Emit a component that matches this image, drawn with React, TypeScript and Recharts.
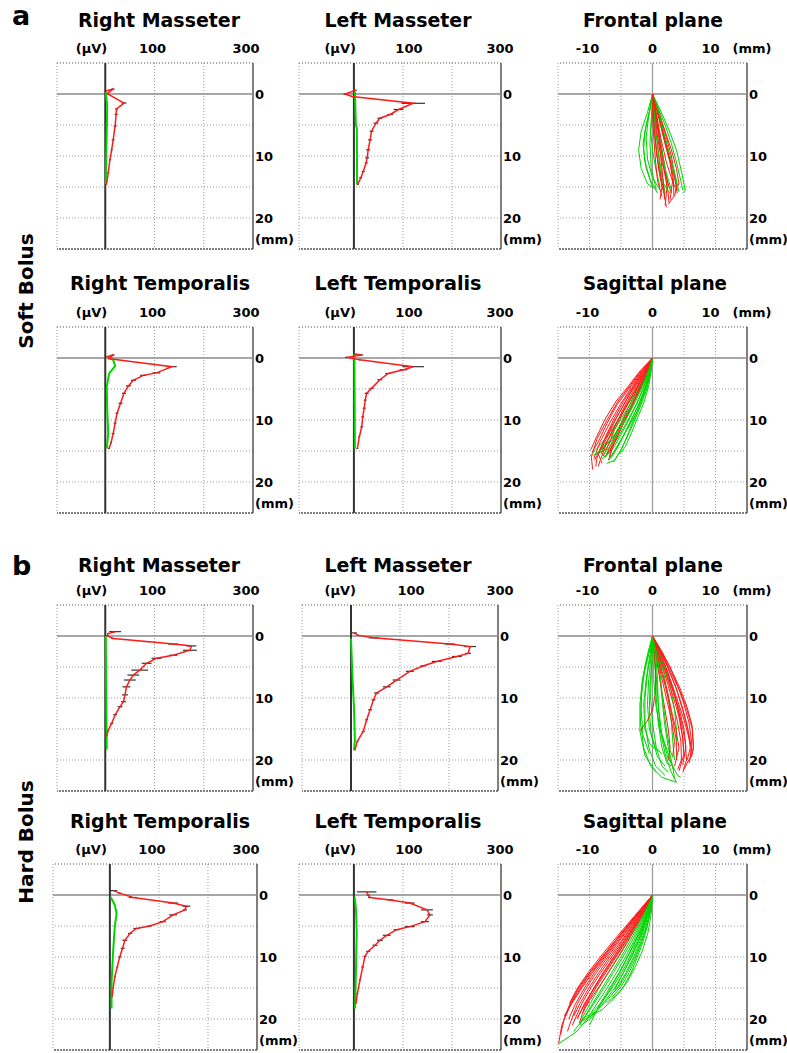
import { ScatterChart, Scatter, XAxis, YAxis, ReferenceLine, ErrorBar } from 'recharts'

const FONT = '"DejaVu Sans", Verdana, sans-serif'
const RED = '#ff1a1a'
const GREEN = '#00d400'

// EMG profiles: [depth mm, amplitude µV, sd]
const softRightMasseterRed = [
  [-0.5, 1, 1], [-0.8, 16, 3], [-0.05, 4, 1], [1.45, 38, 5], [2.4, 23, 3], [3.3, 22, 3],
  [5.2, 20, 3], [7.4, 16, 3], [9, 13, 2], [10.6, 9.5, 2], [12.7, 6, 2], [14.6, 2.7, 1],
]
const softRightMasseterGreen = [[-0.3, 1], [2, 4], [6, 3], [10, 2], [14.6, 1]]

const softLeftMasseterRed = [
  [-0.6, 4, 2], [0, -18, 3], [0.4, -4, 2], [1.5, 121, 24], [2.5, 91, 10], [3.3, 74, 6],
  [3.9, 53, 5], [4.7, 45, 5], [6, 36, 4], [7.4, 33, 4], [9, 29, 4], [10.3, 27, 4],
  [11.1, 25, 3], [12.5, 19, 3], [13.5, 14, 3], [14.6, 8, 2],
]
const softLeftMasseterGreen = [[-0.4, 2], [5, 4], [5.5, 6], [14.6, 6.5]]

const softRightTemporalisRed = [
  [-0.2, 3, 1], [-0.5, 16, 3], [0.1, 8, 2], [1.4, 135, 10], [2.4, 104, 8], [2.8, 77, 6],
  [3.6, 57, 5], [4.5, 47, 5], [5.7, 38, 4], [7.3, 31, 4], [8.9, 24, 3], [10.5, 20, 3],
  [12.2, 16, 3], [13.7, 11.6, 2], [14.6, 7.5, 2],
]
const softRightTemporalisGreen = [[-0.2, 4], [0.3, 16], [1.3, 20], [2.5, 8], [4.6, 3], [8.4, 4], [12.2, 6], [14.6, 3]]

const softLeftTemporalisRed = [
  [-0.6, 4, 2], [-0.5, 16, 3], [-0.1, -15, 3], [0.1, -1, 1], [0.3, 12, 2], [1.4, 121, 22],
  [1.9, 101, 8], [2.5, 70, 6], [3.5, 53, 5], [4.9, 36, 4], [5.7, 26, 4], [6.8, 23, 3],
  [8.1, 21, 3], [9.5, 18, 3], [11.1, 16, 3], [12.7, 11, 2], [14.6, 7, 2],
]
const softLeftTemporalisGreen = [[-0.6, 1], [14.6, 2]]

const hardRightMasseterRed = [
  [-0.7, 20, 12], [-0.4, 6, 2], [-0.05, 4, 2], [0.4, 16, 4], [0.9, 84, 8], [1.3, 138, 10],
  [1.6, 175, 10], [2.3, 172, 14], [3.1, 138, 8], [3.6, 104, 10], [4.4, 84, 10], [5.5, 70, 17],
  [6.3, 57, 12], [7.1, 50, 12], [8.2, 43, 8], [9.5, 40, 6], [10.6, 37, 5], [11.4, 30, 5],
  [12.7, 20, 4], [14.1, 13, 3], [15.2, 6, 2], [16.2, 3, 1],
]
const hardRightMasseterGreen = [[0, 1], [9, 2], [18.3, 3]]

const hardLeftMasseterRed = [
  [-0.5, 6, 6], [-0.1, 15, 3], [0.3, 46, 10], [1.3, 202, 10], [1.7, 243, 12], [2.8, 239, 6],
  [3.3, 216, 10], [4.1, 175, 10], [4.8, 148, 6], [5.7, 120, 8], [7.1, 93, 8], [8.2, 73, 8],
  [9.2, 52, 5], [10.3, 46, 4], [11.9, 39, 4], [13.5, 32, 3], [15.4, 25, 3], [17, 13, 2], [18.4, 8, 1],
]
const hardLeftMasseterGreen = [[0.4, 0], [6, 2.7], [11.4, 6], [16.8, 8], [18.4, 6]]

const hardRightTemporalisRed = [
  [-0.7, 7, 8], [-0.3, 20, 3], [0.4, 47, 8], [1.3, 129, 10], [1.8, 156, 8], [2.4, 153, 4],
  [3.2, 129, 8], [4.3, 108, 6], [5, 81, 4], [5.4, 54, 6], [6.2, 41, 4], [7.3, 30.5, 5],
  [8.6, 26, 4], [10, 20, 3], [11.6, 15, 2], [13.2, 10, 2], [14.8, 7, 1], [16.4, 4.7, 1],
]
const hardRightTemporalisGreen = [[0.3, 1.4], [1.6, 10], [3, 13.6], [5.1, 10], [8.9, 6.8], [14.2, 3.4], [18.3, 3.4]]

const hardLeftTemporalisRed = [
  [-0.5, 26, 20], [0, 29, 3], [0.4, 33, 4], [0.8, 74, 6], [1.3, 114, 10], [2.4, 149, 12],
  [3.2, 155, 6], [4.3, 145, 8], [5.1, 114, 10], [5.6, 87, 6], [6.5, 67, 8], [7.3, 53, 6],
  [8.1, 43, 5], [9.1, 29, 4], [9.9, 22.6, 3], [11.6, 18, 3], [13.7, 12.4, 2], [15.9, 7, 2], [17.5, 4.3, 1],
]
const hardLeftTemporalisGreen = [[0.3, 1.6], [2.4, 4.3], [6.2, 5.7], [11.6, 4.3], [18.3, 2.3]]

// jaw trajectories: [x mm, depth mm]
const softFrontalGreen = [
  [[0, 0], [-0.8, 3], [-1.8, 6], [-2.2, 9], [-1.8, 12], [-0.8, 14.5], [0.2, 15.2]],
  [[0, 0], [-0.5, 3], [-1.2, 6], [-1.4, 9], [-1, 12], [0, 15]],
  [[0, 0], [0, 3], [-0.3, 6], [0, 9], [0.5, 12], [1.2, 15]],
  [[0, 0], [0.5, 3], [1, 6], [1.5, 9], [2, 12], [2.5, 15]],
  [[0, 0], [1, 2.5], [2, 5], [3, 8], [3.8, 11], [4.5, 14], [4.8, 15.5]],
  [[0, 0], [0.8, 3], [1.5, 6], [2.5, 10], [3.5, 13.5], [4, 15]],
  [[0, 0], [0.3, 3], [0.5, 6], [1, 10], [1.5, 13], [2, 16]],
  [[0, 0], [1.2, 2.5], [2.5, 5.5], [3.8, 9], [4.6, 12.5], [5.2, 15.5], [4.8, 16]],
  [[0, 0], [-0.3, 2], [-1, 5], [-1.5, 8], [-1.2, 11], [-0.3, 14], [0.8, 16]],
  [[0, 0], [0.6, 4], [1.2, 8], [2, 12], [3, 15.5]],
  [[0, 0], [0.2, 3], [0.4, 7], [0.9, 11], [1.8, 14.5], [2.8, 16]],
  [[0, 0], [-0.6, 3.5], [-1, 7], [-0.8, 10.5], [0, 13.5], [1.2, 15.5]],
  [[0, 0], [1, 3], [1.9, 6.5], [2.8, 10], [3.6, 13], [4.2, 15.8]],
  [[0, 0], [-0.2, 4], [-0.4, 8], [-0.2, 12], [0.6, 15.5]],
]
const softFrontalRed = [
  [[0, 0], [0.5, 3], [1, 6], [1.5, 9], [2, 12], [2.3, 15], [2, 18]],
  [[0, 0], [0.8, 3], [1.6, 6], [2.4, 9], [3.2, 12], [3.8, 15], [3.5, 16.5]],
  [[0, 0], [0.3, 3], [0.6, 6], [0.9, 9], [1.2, 12], [1.5, 15], [1.2, 17]],
  [[0, 0], [1, 3], [2, 6], [3, 9], [3.8, 12], [4.2, 14.5], [3.6, 15.5]],
  [[0, 0], [0.2, 4], [0.5, 8], [1, 12], [1.8, 15.5], [2.2, 18.3]],
  [[0, 0], [0.6, 2], [1.3, 5], [2, 8], [2.8, 11], [3.2, 14], [2.8, 17]],
  [[0, 0], [0.4, 3], [0.8, 7], [1.5, 11], [2.5, 14.5], [3, 16]],
  [[0, 0], [0, 3], [0.2, 7], [0.5, 11], [0.8, 14], [1.5, 16.5]],
  [[0, 0], [1.2, 3.5], [2.2, 7], [3, 10], [3.5, 13], [3.9, 16]],
  [[0, 0], [0.7, 4], [1.2, 8], [1.8, 12], [2.5, 16], [2.6, 17.5]],
  [[0, 0], [0.9, 3], [1.8, 6.5], [2.6, 10], [3.3, 13.5], [3.4, 16.5], [2.5, 17.8]],
  [[0, 0], [0.4, 2.5], [0.9, 6], [1.3, 10], [1.7, 14], [1.9, 17]],
  [[0, 0], [0.6, 3], [1.3, 7], [2.2, 11], [3.3, 14.5], [4, 15.5]],
  [[0, 0], [0.1, 3], [0.3, 6], [0.7, 10], [1.2, 13.5], [1.8, 16]],
]
const softSagittalRed = [
  [[0, 0], [-1.8, 2], [-3.6, 4.5], [-5.5, 7], [-7.2, 10], [-8.8, 13], [-9.7, 16], [-9.5, 18]],
  [[0, 0], [-1.5, 2], [-3, 4.5], [-4.6, 7], [-6.2, 10], [-7.6, 13], [-8.6, 15.5], [-8, 17]],
  [[0, 0], [-1.2, 2], [-2.6, 4.5], [-4, 7], [-5.5, 10], [-7, 13], [-8.2, 15.5]],
  [[0, 0], [-1, 2], [-2.2, 4.5], [-3.6, 7.5], [-5, 10.5], [-6.4, 13.5], [-7.5, 16]],
  [[0, 0], [-1.6, 2.5], [-3.2, 5], [-4.8, 8], [-6.5, 11], [-8, 14], [-9.2, 16.5]],
  [[0, 0], [-0.8, 2], [-1.9, 4.5], [-3.2, 7.5], [-4.6, 10.5], [-6, 13.5], [-7, 16.5]],
  [[0, 0], [-1.4, 2.5], [-2.9, 5.5], [-4.5, 8.5], [-6, 11.5], [-7.2, 14.5], [-7.8, 15.8]],
  [[0, 0], [-2, 2.5], [-3.8, 5], [-5.6, 7.5], [-7.2, 10.5], [-8.6, 13.5], [-9.6, 15.2]],
  [[0, 0], [-1.1, 2.5], [-2.4, 5.5], [-3.8, 8.5], [-5.3, 11.5], [-6.6, 14.5], [-6.8, 16]],
  [[0, 0], [-1.3, 2], [-2.8, 4.5], [-4.3, 7], [-5.9, 10], [-7.3, 13], [-8.8, 16], [-9, 17.5]],
  [[0, 0], [-1.7, 2.2], [-3.4, 4.8], [-5.1, 7.5], [-6.8, 10.5], [-8.3, 13.5], [-9.3, 16.2]],
  [[0, 0], [-1.2, 2.5], [-2.6, 5], [-4.1, 7.5], [-5.7, 10.5], [-7.2, 13.5], [-8.3, 16.5], [-8.6, 17.5]],
  [[0, 0], [-0.9, 2.5], [-2, 5], [-3.3, 8], [-4.8, 11], [-6.2, 14], [-7.3, 15.5]],
  [[0, 0], [-1.9, 2], [-3.8, 4.5], [-5.8, 7], [-7.6, 10], [-9, 13], [-9.8, 14.8]],
]
const softSagittalGreen = [
  [[0, 0], [-0.3, 2], [-0.9, 4.5], [-1.8, 7], [-2.8, 9.5], [-3.8, 12], [-4.8, 14.5], [-6, 16.5], [-7.3, 17]],
  [[0, 0], [-0.5, 2], [-1.3, 4.5], [-2.3, 7], [-3.5, 9.5], [-4.8, 12], [-6.2, 14.5], [-7.5, 16]],
  [[0, 0], [-0.7, 2], [-1.7, 4.5], [-3, 7], [-4.4, 9.5], [-5.8, 12], [-7.3, 14], [-8.8, 15.5]],
  [[0, 0], [-1, 2], [-2.2, 4.5], [-3.6, 7], [-5.2, 9.5], [-6.7, 12], [-8.3, 14], [-10, 15.9]],
  [[0, 0], [-0.2, 2], [-0.6, 4.5], [-1.3, 7], [-2.3, 9.5], [-3.3, 12], [-4.3, 14.3], [-5.2, 15.5]],
  [[0, 0], [-0.6, 2.5], [-1.5, 5], [-2.6, 7.5], [-3.9, 10], [-5.3, 12.5], [-6.8, 15], [-8, 16.3]],
  [[0, 0], [-0.8, 2.5], [-1.9, 5], [-3.2, 7.5], [-4.6, 10], [-6, 12.5], [-7.5, 14.8], [-9, 15.5]],
  [[0, 0], [-0.4, 2], [-1.1, 4.5], [-2, 7], [-3.1, 9.5], [-4.3, 12], [-5.6, 14.5], [-6.5, 16]],
  [[0, 0], [-0.9, 2], [-2, 4.5], [-3.3, 7], [-4.8, 9.5], [-6.3, 12], [-7.6, 14], [-8.3, 15]],
  [[0, 0], [-0.5, 3], [-1.4, 6], [-2.6, 9], [-4, 11.5], [-5.5, 14], [-6.8, 16.2]],
  [[0, 0], [-0.4, 2.5], [-1.2, 5], [-2.2, 7.5], [-3.4, 10], [-4.6, 12.5], [-5.8, 14.8], [-6.9, 16.5]],
  [[0, 0], [-0.8, 2.2], [-1.9, 4.8], [-3.2, 7.5], [-4.6, 10], [-6.1, 12.5], [-7.8, 14.5], [-9.4, 15.7]],
  [[0, 0], [-0.3, 2.5], [-0.9, 5], [-1.8, 7.5], [-2.8, 10], [-3.9, 12.5], [-5, 14.8], [-6.2, 16.8]],
  [[0, 0], [-0.6, 2], [-1.5, 4.5], [-2.7, 7], [-4, 9.5], [-5.4, 12], [-6.8, 14.3], [-8, 15.8]],
]
const hardFrontalGreen = [
  [[0, 0], [-0.6, 3], [-1.3, 6], [-1.8, 10], [-1.9, 14], [-1.4, 18], [-0.3, 21], [1.5, 22.8], [3.8, 23.6]],
  [[0, 0], [-0.3, 3], [-0.8, 6], [-1.2, 10], [-1.2, 14], [-0.6, 18], [0.5, 21], [2, 22.5]],
  [[0, 0], [0, 3], [-0.2, 6], [-0.3, 10], [0, 14], [0.6, 18], [1.5, 21], [2.5, 22]],
  [[0, 0], [0.3, 3], [0.5, 6], [0.6, 10], [0.9, 14], [1.5, 18], [2.3, 20.5], [3, 21]],
  [[0, 0], [0.6, 3], [1.1, 6], [1.5, 10], [1.9, 14], [2.5, 18], [3.2, 21], [3.5, 23]],
  [[0, 0], [0.9, 3], [1.8, 6], [2.5, 10], [3, 14], [3.3, 18], [3.5, 20]],
  [[0, 0], [-0.5, 2], [-1.2, 5], [-1.7, 8], [-1.8, 12], [-1.5, 16], [-0.5, 19]],
  [[0, 0], [0.4, 4], [0.7, 8], [1, 12], [1.5, 16], [2.4, 19.5], [4, 22.5], [4.5, 22.8]],
  [[0, 0], [-0.2, 3], [-0.6, 7], [-0.8, 11], [-0.5, 15], [0.5, 18], [1.5, 19]],
  [[0, 0], [1.2, 3], [2.2, 6], [3, 9], [3.5, 12], [3.8, 15], [3.8, 17]],
  [[0, 0], [-0.4, 3], [-1, 7], [-1.4, 11], [-1.2, 15], [-0.4, 17.5], [0.8, 18.5]],
  [[0, 0], [0.2, 3], [0.2, 7], [0.5, 11], [1.2, 15], [2.5, 19], [3.3, 21.5]],
  [[0, 0], [-0.8, 3], [-1.6, 7], [-2, 11], [-2, 15.3], [-1.2, 19.3], [0.6, 22]],
  [[0, 0], [0.5, 3], [0.8, 7], [0.9, 11], [1.2, 15], [2, 19], [3, 22], [3.8, 23.6]],
  [[0, 0], [-0.1, 4], [-0.4, 8], [-0.5, 12], [-0.2, 16], [0.8, 19.5], [2, 21]],
  [[0, 0], [0.7, 3], [1.3, 7], [1.7, 11], [2.2, 15], [2.8, 18.5], [3.2, 19.5]],
]
const hardFrontalRed = [
  [[0, 0], [1.4, 2.5], [2.8, 5], [4, 8], [5, 11], [5.8, 14], [6.2, 17], [6, 19.5], [5, 21.5]],
  [[0, 0], [1.2, 2.5], [2.4, 5], [3.6, 8], [4.6, 11], [5.4, 14], [6, 17], [6.3, 19]],
  [[0, 0], [1, 2.5], [2, 5], [3, 8], [3.9, 11], [4.6, 14], [5.2, 17], [5.4, 20], [4.8, 22]],
  [[0, 0], [0.8, 2.5], [1.6, 5], [2.5, 8], [3.3, 11], [4, 14], [4.5, 17], [4.6, 20], [4, 21.5]],
  [[0, 0], [1.6, 3], [3, 6], [4.4, 9], [5.5, 12], [6.3, 15], [6.5, 18], [6.2, 19.5]],
  [[0, 0], [0.6, 2.5], [1.2, 5], [2, 8], [2.7, 11], [3.3, 14], [3.8, 17], [3.8, 20]],
  [[0, 0], [1.1, 3], [2.2, 6], [3.3, 9], [4.3, 12], [5, 15], [5.3, 18], [4.8, 20.8]],
  [[0, 0], [0.5, 3], [1, 6], [1.5, 9], [2, 12], [2.5, 15], [2.8, 18], [2.5, 20]],
  [[0, 0], [0.9, 2], [1.9, 4.5], [3, 7.5], [4, 10.5], [5, 13.5], [5.8, 16.5], [6.3, 18.5]],
  [[0, 0], [0.3, 3], [0.5, 6], [0.5, 9], [0, 12], [-1, 14], [-2, 15.3]],
  [[0, 0], [1.3, 3], [2.5, 6], [3.5, 9.5], [4.3, 13], [4.8, 16.5], [5, 19.5]],
  [[0, 0], [0.7, 3], [1.4, 6.5], [2.2, 10], [3, 13.5], [3.5, 17], [3.2, 19.5]],
  [[0, 0], [1.5, 2.5], [3, 5.5], [4.4, 8.5], [5.5, 11.5], [6.3, 14.5], [6.5, 18], [5.8, 20.5]],
  [[0, 0], [1, 3], [2.1, 6], [3.2, 9.5], [4.2, 13], [4.8, 16.5], [5, 19], [4.2, 21.8]],
  [[0, 0], [0.8, 3], [1.6, 6], [2.4, 9], [3, 12], [3.7, 15], [4.2, 18], [3.5, 21]],
  [[0, 0], [1.3, 2.5], [2.6, 5.5], [3.8, 8.5], [4.8, 12], [5.6, 15], [6, 18], [5.5, 20]],
]
const hardSagittalRed = [
  [[0, 0], [-2, 2.5], [-4, 5], [-6, 7.5], [-8, 10], [-10, 12.5], [-11.8, 15], [-13.3, 18], [-14.4, 21], [-14.9, 24]],
  [[0, 0], [-1.8, 2.5], [-3.6, 5], [-5.5, 7.5], [-7.4, 10], [-9.2, 12.5], [-10.8, 15], [-12.2, 17.5], [-13.3, 20]],
  [[0, 0], [-1.6, 2.5], [-3.3, 5], [-5, 7.5], [-6.8, 10], [-8.5, 12.5], [-10.1, 15], [-11.5, 17.5], [-12.5, 19.5]],
  [[0, 0], [-1.5, 2.5], [-3, 5], [-4.6, 7.5], [-6.2, 10], [-7.8, 12.5], [-9.3, 15], [-10.6, 17.5], [-11.6, 20.6]],
  [[0, 0], [-1.9, 2.5], [-3.8, 5], [-5.7, 7.5], [-7.6, 10], [-9.5, 12.5], [-11.2, 15], [-12.8, 17.5], [-14, 19.5]],
  [[0, 0], [-1.3, 2.5], [-2.7, 5], [-4.2, 7.5], [-5.8, 10], [-7.4, 12.5], [-9, 15], [-10.4, 17.5], [-11, 19]],
  [[0, 0], [-1.7, 2.5], [-3.5, 5], [-5.3, 7.5], [-7.1, 10], [-8.9, 12.5], [-10.5, 15], [-11.9, 17.5], [-13, 20.5], [-13.5, 22]],
  [[0, 0], [-1.2, 2.5], [-2.5, 5], [-3.9, 7.5], [-5.4, 10], [-7, 12.5], [-8.6, 15], [-10, 17], [-10.5, 18]],
  [[0, 0], [-2.1, 2.5], [-4.2, 5], [-6.3, 7.5], [-8.3, 10], [-10.2, 12.5], [-11.9, 15], [-13.2, 17.5]],
  [[0, 0], [-1.4, 2.5], [-2.9, 5], [-4.5, 7.5], [-6.1, 10], [-7.8, 12.5], [-9.6, 15.5], [-11.2, 18.5], [-12, 20]],
  [[0, 0], [-1.9, 2.5], [-3.9, 5], [-5.9, 7.5], [-7.8, 10], [-9.7, 12.5], [-11.4, 15], [-12.9, 17.5], [-14, 20], [-14.6, 22.5]],
  [[0, 0], [-1.6, 2.5], [-3.2, 5], [-4.8, 7.5], [-6.5, 10], [-8.2, 12.5], [-9.8, 15], [-11.2, 17.5], [-12.3, 20], [-12.7, 21]],
  [[0, 0], [-1.4, 2.5], [-2.8, 5], [-4.3, 7.5], [-5.9, 10], [-7.6, 12.5], [-9.2, 15], [-10.8, 17.5], [-11.9, 19.8]],
  [[0, 0], [-2, 2.5], [-4, 5], [-6, 7.5], [-8, 10], [-9.9, 12.5], [-11.6, 15], [-13, 17.5], [-13.8, 19.5]],
]
const hardSagittalGreen = [
  [[0, 0], [-0.3, 2.5], [-0.8, 5], [-1.5, 7.5], [-2.4, 10], [-3.4, 12.5], [-4.6, 14.8], [-6.2, 16.8], [-8, 18.5], [-10, 19.6], [-11.6, 20.6]],
  [[0, 0], [-0.5, 2.5], [-1.2, 5], [-2, 7.5], [-3, 10], [-4.2, 12.5], [-5.6, 15], [-7.2, 17], [-9, 18.8], [-10.5, 19.6]],
  [[0, 0], [-0.7, 2.5], [-1.5, 5], [-2.5, 7.5], [-3.6, 10], [-4.9, 12.5], [-6.4, 15], [-8, 17.2], [-9.6, 19]],
  [[0, 0], [-0.9, 2.5], [-1.9, 5], [-3, 7.5], [-4.3, 10], [-5.7, 12.5], [-7.2, 15], [-8.8, 17.5], [-10.4, 20], [-12, 22], [-14.9, 24]],
  [[0, 0], [-0.4, 2.5], [-1, 5], [-1.8, 7.5], [-2.8, 10], [-4, 12.5], [-5.4, 15], [-6.5, 16]],
  [[0, 0], [-1.1, 2.5], [-2.3, 5], [-3.6, 7.5], [-5, 10], [-6.5, 12.5], [-8, 15], [-9.5, 17.5], [-11, 20], [-12.5, 22]],
  [[0, 0], [-0.6, 2.5], [-1.4, 5], [-2.3, 7.5], [-3.4, 10], [-4.6, 12.5], [-5.6, 14.5], [-6, 15.3]],
  [[0, 0], [-1.2, 2.5], [-2.6, 5], [-4, 7.5], [-5.5, 10], [-7, 12.5], [-8.5, 15], [-9.9, 17.5], [-11, 19.5], [-11.5, 21]],
  [[0, 0], [-0.8, 2.5], [-1.7, 5], [-2.8, 7.5], [-4, 10], [-5.3, 12.5], [-6.8, 15], [-8.3, 17.5], [-9.5, 20], [-10, 21]],
  [[0, 0], [-0.2, 3], [-0.7, 6], [-1.6, 9], [-2.7, 11.5], [-4, 14], [-5.5, 16], [-7.3, 17.4]],
  [[0, 0], [-0.5, 2.5], [-1.3, 5], [-2.2, 7.5], [-3.3, 10], [-4.6, 12.5], [-6, 15], [-7.6, 17.2], [-9.2, 19], [-10.8, 20.4]],
  [[0, 0], [-1, 2.5], [-2.1, 5], [-3.3, 7.5], [-4.7, 10], [-6.2, 12.5], [-7.7, 15], [-9.3, 17.5], [-10.8, 19.8], [-11.4, 20.6]],
  [[0, 0], [-0.3, 2.5], [-0.9, 5], [-1.7, 7.5], [-2.6, 10], [-3.7, 12.5], [-5, 14.8], [-6.4, 16.5]],
  [[0, 0], [-0.7, 2.5], [-1.6, 5], [-2.7, 7.5], [-3.9, 10], [-5.2, 12.5], [-6.6, 15], [-8.1, 17.5], [-9.7, 19.8], [-11, 20.8]],
]

const emgTicks = [0, 100, 300]
const emgTickLabels = ['(µV)', '100', '300']
const mmTicks = [-10, 0, 10, 15]
const mmTickLabels = ['-10', '0', '10', '(mm)']
const depthTicks = [0, 10, 20]

type Pt = { x: number; y: number; err?: number }
type Series = { data: Pt[]; color: string; width: number; err?: boolean }

const emgPts = (rows: number[][]): Pt[] => rows.map(([y, x, err]) => ({ x, y, err }))
const trajPts = (rows: number[][]): Pt[] => rows.map(([x, y]) => ({ x, y }))

const emgSeries = (red: number[][], green: number[][]): Series[] => [
  { data: emgPts(green), color: GREEN, width: 2 },
  { data: emgPts(red), color: RED, width: 1.5, err: true },
]
const trajSeries = (green: number[][][], red: number[][][]): Series[] => {
  const out: Series[] = []
  const n = Math.max(green.length, red.length)
  for (let i = 0; i < n; i++) {
    if (green[i]) out.push({ data: trajPts(green[i]), color: GREEN, width: 1 })
    if (red[i]) out.push({ data: trajPts(red[i]), color: RED, width: 1 })
  }
  return out
}

const ML = 10
const MT = 25
const MR = 46
const MB = 3

type PanelDef = {
  left: number; right: number; top: number; bottom: number
  xMin: number; xMax: number
  kind: 'emg' | 'traj'
  dx: number[]
  series: Series[]
}

const ROWS = [[63, 249], [327, 513], [605, 791], [864, 1050]]
const dxCol1 = [2, -2, -7]
const dxCol2 = [2, 6, -1]
const dxCol3 = [-2, 0, -5, 5]

const panels: PanelDef[] = [
  { left: 57, right: 253, top: ROWS[0][0], bottom: ROWS[0][1], xMin: -98, xMax: 300, kind: 'emg', dx: dxCol1, series: emgSeries(softRightMasseterRed, softRightMasseterGreen) },
  { left: 299, right: 501, top: ROWS[0][0], bottom: ROWS[0][1], xMin: -112, xMax: 300, kind: 'emg', dx: dxCol2, series: emgSeries(softLeftMasseterRed, softLeftMasseterGreen) },
  { left: 558, right: 747, top: ROWS[0][0], bottom: ROWS[0][1], xMin: -15, xMax: 15, kind: 'traj', dx: dxCol3, series: trajSeries(softFrontalGreen, softFrontalRed) },
  { left: 57, right: 253, top: ROWS[1][0], bottom: ROWS[1][1], xMin: -98, xMax: 300, kind: 'emg', dx: dxCol1, series: emgSeries(softRightTemporalisRed, softRightTemporalisGreen) },
  { left: 299, right: 501, top: ROWS[1][0], bottom: ROWS[1][1], xMin: -112, xMax: 300, kind: 'emg', dx: dxCol2, series: emgSeries(softLeftTemporalisRed, softLeftTemporalisGreen) },
  { left: 558, right: 747, top: ROWS[1][0], bottom: ROWS[1][1], xMin: -15, xMax: 15, kind: 'traj', dx: dxCol3, series: trajSeries(softSagittalGreen, softSagittalRed) },
  { left: 57, right: 253, top: ROWS[2][0], bottom: ROWS[2][1], xMin: -98, xMax: 300, kind: 'emg', dx: dxCol1, series: emgSeries(hardRightMasseterRed, hardRightMasseterGreen) },
  { left: 302, right: 498, top: ROWS[2][0], bottom: ROWS[2][1], xMin: -100, xMax: 300, kind: 'emg', dx: [5, 11, 2], series: emgSeries(hardLeftMasseterRed, hardLeftMasseterGreen) },
  { left: 558, right: 747, top: ROWS[2][0], bottom: ROWS[2][1], xMin: -15, xMax: 15, kind: 'traj', dx: dxCol3, series: trajSeries(hardFrontalGreen, hardFrontalRed) },
  { left: 53, right: 257, top: ROWS[3][0], bottom: ROWS[3][1], xMin: -116, xMax: 300, kind: 'emg', dx: [-3, -7, -11], series: emgSeries(hardRightTemporalisRed, hardRightTemporalisGreen) },
  { left: 299, right: 501, top: ROWS[3][0], bottom: ROWS[3][1], xMin: -112, xMax: 300, kind: 'emg', dx: dxCol2, series: emgSeries(hardLeftTemporalisRed, hardLeftTemporalisGreen) },
  { left: 558, right: 747, top: ROWS[3][0], bottom: ROWS[3][1], xMin: -15, xMax: 15, kind: 'traj', dx: dxCol3, series: trajSeries(hardSagittalGreen, hardSagittalRed) },
]

const titles = [
  { text: 'Right Masseter', x: 159, y: 27, len: 162 },
  { text: 'Left Masseter', x: 398, y: 27, len: 147 },
  { text: 'Frontal plane', x: 653, y: 27, len: 140 },
  { text: 'Right Temporalis', x: 160, y: 290, len: 180 },
  { text: 'Left Temporalis', x: 398, y: 290, len: 167 },
  { text: 'Sagittal plane', x: 655, y: 290, len: 144 },
  { text: 'Right Masseter', x: 159, y: 572, len: 162 },
  { text: 'Left Masseter', x: 398, y: 572, len: 147 },
  { text: 'Frontal plane', x: 653, y: 572, len: 140 },
  { text: 'Right Temporalis', x: 160, y: 828, len: 180 },
  { text: 'Left Temporalis', x: 398, y: 828, len: 167 },
  { text: 'Sagittal plane', x: 655, y: 828, len: 144 },
]

const noDot = () => <g />
const DOT = '1 2'

function Panel({ p }: { p: PanelDef }) {
  const w = p.right - p.left
  const h = p.bottom - p.top
  const ticks = p.kind === 'emg' ? emgTicks : mmTicks
  const labels = p.kind === 'emg' ? emgTickLabels : mmTickLabels
  const vGrid = p.kind === 'emg' ? [100, 200] : [-10, -5, 5, 10]

  const renderXTick = (props: any) => {
    const i = ticks.indexOf(props.payload.value)
    const anchor = p.kind === 'emg' && i === 0 ? 'end' : 'middle'
    return (
      <text x={props.x + p.dx[i]} y={MT - 10} textAnchor={anchor} fontFamily={FONT} fontWeight="bold" fontSize={13} fill="#000">
        {labels[i]}
      </text>
    )
  }
  const renderYTick = (props: any) => {
    const v = props.payload.value
    const x = ML + w + 2
    return (
      <g>
        <text x={x} y={props.y + 5} fontFamily={FONT} fontWeight="bold" fontSize={13} fill="#000">{v}</text>
        {v === 20 && (
          <text x={x} y={props.y + 26} fontFamily={FONT} fontWeight="bold" fontSize={13} fill="#000">(mm)</text>
        )}
      </g>
    )
  }

  return (
    <div style={{ position: 'absolute', left: p.left - ML, top: p.top - MT }}>
      <ScatterChart width={w + ML + MR} height={h + MT + MB} margin={{ top: MT - 1, right: MR - 1, bottom: MB, left: ML }}>
        <XAxis type="number" dataKey="x" domain={[p.xMin, p.xMax]} allowDataOverflow orientation="top" height={1}
          ticks={ticks} interval={0} tick={renderXTick} axisLine={false} tickLine={false} />
        <YAxis type="number" dataKey="y" domain={[-5, 25]} reversed allowDataOverflow orientation="right" width={1}
          ticks={depthTicks} interval={0} tick={renderYTick} axisLine={false} tickLine={false} />
        <ReferenceLine x={p.xMin} stroke="#999" strokeDasharray={DOT} />
        {vGrid.map((v) => (
          <ReferenceLine key={'v' + v} x={v} stroke="#999" strokeDasharray={DOT} />
        ))}
        {[5, 10, 15, 20].map((v) => (
          <ReferenceLine key={'h' + v} y={v} stroke="#999" strokeDasharray={DOT} />
        ))}
        <ReferenceLine y={-5} stroke="#888" strokeDasharray={DOT} strokeWidth={1.5} />
        <ReferenceLine y={25} stroke="#555" strokeDasharray="2 1" strokeWidth={1.5} />
        <ReferenceLine x={p.xMax} stroke="#555" strokeWidth={1.5} />
        <ReferenceLine y={0} stroke="#8a8a8a" strokeWidth={1.5} />
        <ReferenceLine x={0} stroke={p.kind === 'emg' ? '#333' : '#999'} strokeWidth={p.kind === 'emg' ? 2 : 1.2} />
        {p.series.map((s, i) => (
          <Scatter key={i} data={s.data} fill={s.color} shape={noDot} isAnimationActive={false}
            line={{ stroke: s.color, strokeWidth: s.width }}>
            {s.err && <ErrorBar dataKey="err" direction="x" width={0} stroke="#333" strokeWidth={1.2} />}
          </Scatter>
        ))}
      </ScatterChart>
    </div>
  )
}

export default function App() {
  return (
    <div style={{ position: 'absolute', left: 0, top: 0, width: 787, height: 1053, background: '#fff', overflow: 'hidden' }}>
      {panels.map((p, i) => (
        <Panel key={i} p={p} />
      ))}
      <svg width={787} height={1053} style={{ position: 'absolute', left: 0, top: 0, pointerEvents: 'none' }}>
        {titles.map((t, i) => (
          <text key={i} x={t.x} y={t.y} textAnchor="middle" fontFamily={FONT} fontWeight="bold" fontSize={19}
            textLength={t.len} lengthAdjust="spacingAndGlyphs" fill="#000">
            {t.text}
          </text>
        ))}
        <text x={12} y={25} fontFamily={FONT} fontWeight="bold" fontSize={27} fill="#000">a</text>
        <text x={12} y={575} fontFamily={FONT} fontWeight="bold" fontSize={27} fill="#000">b</text>
        <text x={33} y={291} transform="rotate(-90 33 291)" textAnchor="middle" fontFamily={FONT} fontWeight="bold" fontSize={20} fill="#000">Soft Bolus</text>
        <text x={33} y={842} transform="rotate(-90 33 842)" textAnchor="middle" fontFamily={FONT} fontWeight="bold" fontSize={20} fill="#000">Hard Bolus</text>
      </svg>
    </div>
  )
}
